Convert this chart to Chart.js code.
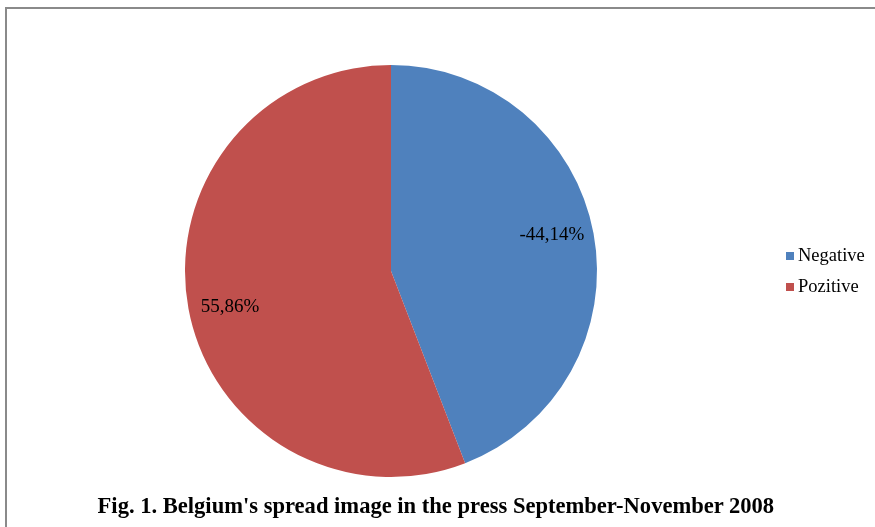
<!DOCTYPE html>
<html>
<head>
<meta charset="utf-8">
<script src="https://cdn.jsdelivr.net/npm/chart.js@4/dist/chart.umd.min.js"></script>
<style>
  html, body { margin: 0; padding: 0; background: #fff; }
  #wrap { position: relative; width: 875px; height: 527px; overflow: hidden; }
  #frame { position: absolute; left: 5px; top: 7px; width: 880px; height: 530px;
           border-top: 2px solid #8a8a8a; border-left: 2px solid #8a8a8a; }
  #chart { position: absolute; left: 0; top: 0; }
  #caption { position: absolute; left: 0; width: 875px; top: 492px; text-align: center;
             font-family: "Liberation Serif", "Times New Roman", serif; font-weight: bold;
             font-size: 24px; color: #000; }
  #caption span { display: inline-block; transform: scaleX(0.94); transform-origin: 50% 50%;
                  margin-left: -3px; white-space: nowrap; }
</style>
</head>
<body>
<div id="wrap">
  <div id="frame"></div>
  <canvas id="chart" width="875" height="527"></canvas>
  <div id="caption"><span>Fig. 1. Belgium's spread image in the press September-November 2008</span></div>
</div>
<script>
  // 円グラフのデータ
  const categories = ['Negative', 'Pozitive'];
  const shares = [44.14, 55.86];
  const valueLabels = ['-44,14%', '55,86%'];
  const colors = ['#4f81bd', '#c0504d'];

  const serif = '"Liberation Serif", "Times New Roman", serif';

  // slice labels inside each arc (slightly before the mid angle, like Excel's best fit)
  const sliceLabels = {
    id: 'sliceLabels',
    afterDatasetsDraw(chart) {
      const ctx = chart.ctx;
      const meta = chart.getDatasetMeta(0);
      ctx.save();
      ctx.font = '19px ' + serif;
      ctx.fillStyle = '#000';
      ctx.textAlign = 'center';
      ctx.textBaseline = 'middle';
      meta.data.forEach(function(arc, i) {
        const p = arc.getProps(['x', 'y', 'startAngle', 'endAngle', 'outerRadius'], true);
        const mid = (p.startAngle + p.endAngle) / 2 - 0.035;
        const r = p.outerRadius * 0.8;
        ctx.fillText(valueLabels[i], p.x + Math.cos(mid) * r, p.y + Math.sin(mid) * r);
      });
      ctx.restore();
    }
  };

  // legend on the right, drawn by hand
  const sideLegend = {
    id: 'sideLegend',
    afterDraw(chart) {
      const ctx = chart.ctx;
      ctx.save();
      ctx.font = '18.5px ' + serif;
      ctx.textBaseline = 'middle';
      ctx.textAlign = 'left';
      chart.data.labels.forEach(function(label, i) {
        const y = 256 + i * 31;
        ctx.fillStyle = chart.data.datasets[0].backgroundColor[i];
        ctx.fillRect(786, y - 4, 8, 8);
        ctx.fillStyle = '#000';
        ctx.fillText(label, 798, y);
      });
      ctx.restore();
    }
  };

  new Chart(document.getElementById('chart').getContext('2d'), {
    type: 'pie',
    data: {
      labels: categories,
      datasets: [{
        data: shares,
        backgroundColor: colors,
        borderWidth: 0
      }]
    },
    options: {
      responsive: false,
      animation: false,
      layout: {
        padding: { top: 65, bottom: 50, left: 185, right: 278 }
      },
      plugins: {
        legend: { display: false },
        tooltip: { enabled: false }
      }
    },
    plugins: [sliceLabels, sideLegend]
  });
</script>
</body>
</html>
